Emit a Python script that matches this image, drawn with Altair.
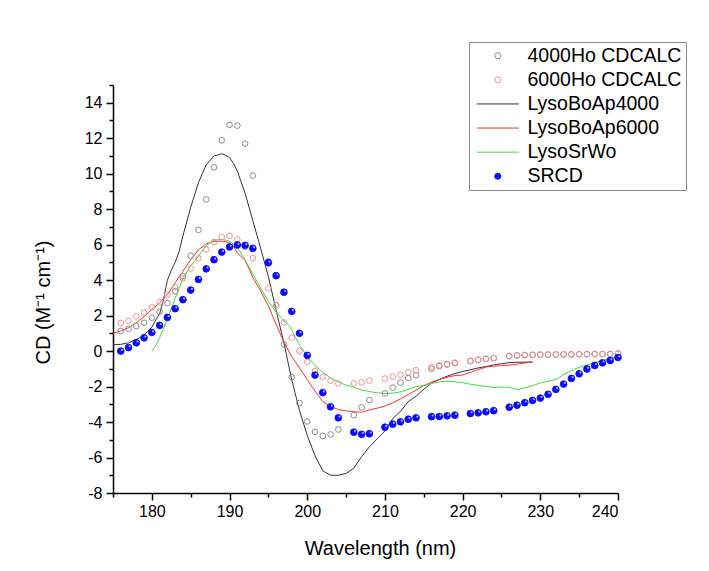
import altair as alt
import pandas as pd

# ---------------- data ----------------
series_names = ["4000Ho CDCALC", "6000Ho CDCALC", "LysoBoAp4000",
                "LysoBoAp6000", "LysoSrWo", "SRCD"]

calc_nm = ([n for n in range(176, 194)] + [n for n in range(195, 205)] +
           [206, 207, 208] + [210, 211, 212, 213, 214] + [216, 217, 218, 219] +
           [221, 222, 223, 224] + [n for n in range(226, 241)])

ho4000_cd = [1.13, 1.26, 1.41, 1.6, 1.88, 2.22, 2.71, 3.37, 4.23, 5.38, 6.83, 8.55,
             10.36, 11.88, 12.75, 12.71, 11.69, 9.89,
             5.06, 2.59, 0.38, -1.47, -2.93, -3.97, -4.55, -4.78, -4.7, -4.42,
             -3.61, -3.18, -2.76,
             -2.39, -2.06, -1.78, -1.52, -1.35,
             -1.0, -0.85, -0.76, -0.68,
             -0.57, -0.5, -0.44, -0.4,
             -0.29, -0.25, -0.23, -0.21, -0.2, -0.2, -0.19, -0.19, -0.19, -0.18,
             -0.18, -0.17, -0.17, -0.16, -0.14]

ho6000_cd = [1.58, 1.71, 1.96, 2.16, 2.46, 2.76, 3.18, 3.61, 4.1, 4.66, 5.23, 5.74,
             6.15, 6.43, 6.5, 6.3, 5.88, 5.24,
             3.53, 2.59, 1.61, 0.75, 0.0, -0.62, -1.11, -1.45, -1.67, -1.82,
             -1.82, -1.76, -1.66,
             -1.55, -1.44, -1.34, -1.2, -1.08,
             -0.9, -0.8, -0.73, -0.65,
             -0.55, -0.49, -0.43, -0.39,
             -0.27, -0.24, -0.22, -0.21, -0.2, -0.19, -0.19, -0.18, -0.18, -0.18,
             -0.17, -0.17, -0.16, -0.16, -0.14]

srcd_cd = [0.0, 0.2, 0.47, 0.75, 1.05, 1.45, 1.9, 2.39, 2.9, 3.44, 4.04, 4.64,
           5.15, 5.58, 5.87, 5.98, 5.96, 5.79,
           4.98, 4.25, 3.32, 2.24, 1.0, -0.24, -1.35, -2.34, -3.14, -3.76,
           -4.57, -4.69, -4.66,
           -4.29, -4.12, -3.99, -3.84, -3.76,
           -3.7, -3.69, -3.65, -3.61,
           -3.52, -3.48, -3.42, -3.36,
           -3.16, -3.05, -2.91, -2.78, -2.65, -2.44, -2.16, -1.86, -1.54, -1.28,
           -1.01, -0.81, -0.66, -0.53, -0.36]

bo4000_nm = [175, 176, 177, 178, 179, 180, 180.5, 181, 181.5, 182, 182.5, 183, 183.5,
             184, 185, 186, 187, 188, 189, 189.5, 190, 190.5, 191] + list(range(192, 230))
bo4000_cd = [0.37, 0.38, 0.47, 0.65, 0.9, 1.35, 1.75, 2.1, 2.9, 4.0, 4.55, 5.0, 5.6,
             6.5, 8.1, 9.5, 10.5, 11.0, 11.12, 11.05, 10.9, 10.6, 10.15,
             8.9, 7.35, 5.8, 4.2, 2.3, 0.45, -1.6, -3.35, -4.75, -5.9, -6.75, -7.0,
             -7.0, -6.9, -6.6, -5.95, -5.4, -4.95, -4.5, -3.8, -3.4, -2.85, -2.55,
             -2.15, -1.8, -1.6, -1.42, -1.27, -1.15, -1.05, -0.95, -0.87, -0.78,
             -0.71, -0.65, -0.63, -0.62, -0.62]

bo6000_nm = (list(range(175, 191)) + [190.5, 191, 192, 192.5] + list(range(193, 230)))
bo6000_cd = [1.0, 1.13, 1.32, 1.6, 1.95, 2.35, 2.72, 3.2, 3.85, 4.5, 5.15, 5.7,
             6.05, 6.18, 6.2, 6.12, 5.9, 5.55, 5.1, 4.65,
             4.15, 3.4, 2.55, 1.5, 0.5, -0.3, -0.95, -1.6, -2.25, -2.85, -3.12,
             -3.3, -3.37, -3.42, -3.45, -3.32, -3.22, -3.1, -2.92, -2.7, -2.45,
             -2.2, -1.95, -1.75, -1.6, -1.48, -1.38, -1.35, -1.2, -1.05, -0.9,
             -0.85, -0.82, -0.79, -0.74, -0.67, -0.6]

srwo_nm = ([180, 180.5] + list(range(181, 198)) + [197.8, 198.5, 199] +
           list(range(200, 241)))
srwo_cd = [0.0, 0.3, 0.75, 1.8, 2.97, 4.1, 4.8, 5.35, 5.95, 6.25, 6.3, 6.2, 5.85,
           5.15, 4.35, 3.55, 2.8, 2.2, 1.7, 1.4, 0.75, 0.35,
           -0.3, -0.8, -1.2, -1.5, -1.75, -1.92, -2.05, -2.2, -2.28, -2.35, -2.39,
           -2.37, -2.3, -2.15, -2.0, -1.93, -1.82, -1.73, -1.7, -1.73, -1.78,
           -1.87, -1.93, -2.0, -2.05, -2.03, -2.05, -2.16, -2.08, -1.95, -1.8,
           -1.7, -1.6, -1.32, -1.1, -0.92, -0.78, -0.65, -0.52, -0.42, -0.34]

# ---------------- tables ----------------
def frame(name, nm, cd):
    return pd.DataFrame({"series": name, "nm": nm, "cd": cd})

circles_df = pd.concat([frame(series_names[0], calc_nm, ho4000_cd),
                        frame(series_names[1], calc_nm, ho6000_cd)], ignore_index=True)
srcd_df = frame(series_names[5], calc_nm, srcd_cd)
lines_df = pd.concat([frame(series_names[2], bo4000_nm, bo4000_cd),
                      frame(series_names[3], bo6000_nm, bo6000_cd),
                      frame(series_names[4], srwo_nm, srwo_cd)], ignore_index=True)

# ---------------- styling ----------------
FONT = "Liberation Sans"
stroke_colors = ["#8c8c8c", "#f29090", "#333333", "#ff3030", "#3ee03e", "#0a0aff"]
fill_colors = ["transparent", "transparent", "transparent", "transparent",
               "transparent", "#0a0aff"]
shapes = ["circle", "circle", "M-7,0H7", "M-7,0H7", "M-7,0H7", "circle"]

legend = alt.Legend(orient="none", legendX=356, legendY=-43, title=None,
                    labelFont=FONT, labelFontSize=19.5, labelColor="black",
                    strokeColor="#8a8a8a", fillColor="white", padding=4,
                    symbolOffset=15, labelOffset=20, rowPadding=3.1,
                    symbolSize=36, symbolStrokeWidth=1)

x_enc = alt.X("nm:Q", scale=alt.Scale(domain=[175, 240], nice=False, zero=False),
              axis=alt.Axis(values=list(range(175, 241, 5)),
                            labelExpr="datum.value % 10 == 0 ? toString(datum.value) : ''",
                            tickSize={"condition": {"test": "datum.value % 10 != 0", "value": 4},
                                      "value": 7},
                            labelOverlap=False, grid=False,
                            title="Wavelength (nm)", titleFont=FONT, titleFontSize=20,
                            titleFontWeight="normal", titleX=267, titleY=45,
                            labelFont=FONT, labelFontSize=16, labelPadding=3,
                            domainColor="black", domainWidth=1.5,
                            tickColor="black", tickWidth=1.5, labelColor="black",
                            titleColor="black"))
y_enc = alt.Y("cd:Q", scale=alt.Scale(domain=[-8, 15], nice=False, zero=False),
              axis=alt.Axis(values=list(range(-8, 16)),
                            labelExpr="datum.value % 2 == 0 ? toString(datum.value) : ''",
                            tickSize={"condition": {"test": "datum.value % 2 != 0", "value": 4},
                                      "value": 7},
                            labelOverlap=False, grid=False,
                            title="CD (M⁻¹ cm⁻¹)", titleFont=FONT, titleFontSize=20,
                            titleFontWeight="normal", titleX=-60, titleY=217,
                            labelFont=FONT, labelFontSize=16, labelPadding=4,
                            domainColor="black", domainWidth=1.5,
                            tickColor="black", tickWidth=1.5, labelColor="black",
                            titleColor="black"))

stroke_enc = alt.Stroke("series:N", scale=alt.Scale(domain=series_names, range=stroke_colors),
                        legend=legend)
fill_enc = alt.Fill("series:N", scale=alt.Scale(domain=series_names, range=fill_colors),
                    legend=legend)
shape_enc = alt.Shape("series:N", scale=alt.Scale(domain=series_names, range=shapes),
                      legend=legend)

lines = alt.Chart(lines_df).mark_line(strokeWidth=1).encode(
    x=x_enc, y=y_enc, stroke=stroke_enc)

circles = alt.Chart(circles_df).mark_point(size=32, strokeWidth=1, opacity=1).encode(
    x=x_enc, y=y_enc, stroke=stroke_enc, fill=fill_enc, shape=shape_enc)

balls = alt.Chart(srcd_df).mark_point(size=46, strokeWidth=0.8, opacity=1).encode(
    x=x_enc, y=y_enc, stroke=stroke_enc, fill=fill_enc, shape=shape_enc)

highlight = alt.Chart(srcd_df).mark_circle(size=5, color="#b8c0ff", opacity=0.9,
                                           xOffset=1.2, yOffset=-1.2).encode(
    x=x_enc, y=y_enc)

chart = alt.layer(lines, circles, balls, highlight).properties(
    width=505, height=408,
    padding={"left": 113, "top": 85, "right": 91, "bottom": 78},
    autosize=alt.AutoSizeParams(type="none"),
    background="white",
).configure_view(stroke="transparent")

chart.save("out.html", embed_options={"renderer": "svg", "actions": False})
